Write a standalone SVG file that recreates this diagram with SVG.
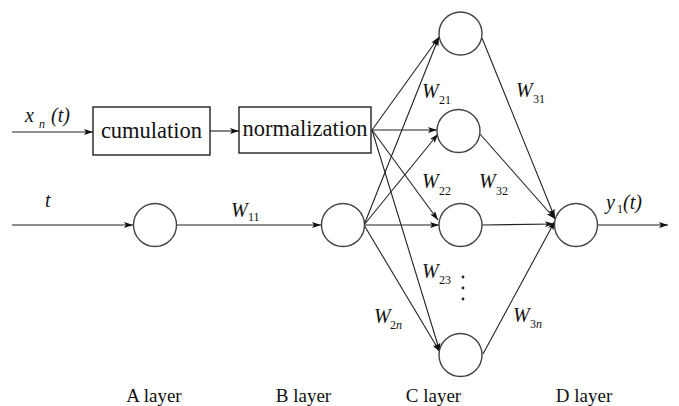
<svg xmlns="http://www.w3.org/2000/svg" width="679" height="406" viewBox="0 0 679 406">
<defs>
<marker id="ah" markerUnits="userSpaceOnUse" markerWidth="10" markerHeight="8" refX="9" refY="3" orient="auto">
<path d="M0,0 L9,3 L0,6 L2,3 z" fill="#111"/>
</marker>
<style>
.n{fill:#fff;stroke:#444;stroke-width:1.4}
.b{fill:#fff;stroke:#222;stroke-width:1.4}
.c{stroke:#222;stroke-width:1.1;fill:none;marker-end:url(#ah)}
.bt{font-family:"Liberation Serif","Times New Roman",serif;font-size:22.5px;fill:#111}
.lt{font-family:"Liberation Serif","Times New Roman",serif;font-size:19px;fill:#111}
.w{font-family:"Liberation Serif","Times New Roman",serif;font-style:italic;font-size:20px;fill:#111}
.s{font-family:"Liberation Serif","Times New Roman",serif;font-size:12px;fill:#111}
</style>
</defs>
<g id="connectors">
<line class="c" x1="12" y1="132" x2="93" y2="132"/>
<line class="c" x1="210" y1="131" x2="239" y2="131"/>
<line class="c" x1="12" y1="225" x2="133" y2="225"/>
<line class="c" x1="176" y1="225" x2="321" y2="225"/>
<line class="c" x1="372" y1="130" x2="439" y2="37"/>
<line class="c" x1="372" y1="130" x2="437" y2="130"/>
<line class="c" x1="372" y1="130" x2="438" y2="220"/>
<line class="c" x1="372" y1="130" x2="440" y2="352"/>
<line class="c" x1="364" y1="225" x2="439" y2="37"/>
<line class="c" x1="364" y1="225" x2="438" y2="134"/>
<line class="c" x1="364" y1="225" x2="439" y2="225"/>
<line class="c" x1="364" y1="225" x2="440" y2="352"/>
<line class="c" x1="482" y1="38" x2="555" y2="218"/>
<line class="c" x1="480" y1="134" x2="555" y2="219"/>
<line class="c" x1="482" y1="225" x2="554" y2="224"/>
<line class="c" x1="483" y1="354" x2="555" y2="221"/>
<line class="c" x1="598" y1="225" x2="668" y2="225"/>
</g>
<g id="cumulation"><rect class="b" x="93" y="107" width="117" height="48"/><text class="bt" x="151.5" y="138" text-anchor="middle">cumulation</text></g>
<g id="normalization"><rect class="b" x="239" y="107" width="132" height="46"/><text class="bt" x="305" y="136" text-anchor="middle">normalization</text></g>
<g id="A"><circle class="n" cx="155" cy="225" r="21.5"/></g>
<g id="B"><circle class="n" cx="343" cy="225" r="21.5"/></g>
<g id="C1"><circle class="n" cx="460.5" cy="33.5" r="21.5"/></g>
<g id="C2"><circle class="n" cx="458.5" cy="131" r="21.5"/></g>
<g id="C3"><circle class="n" cx="460.5" cy="225" r="21.5"/></g>
<g id="Cn"><circle class="n" cx="460.5" cy="355" r="21.5"/></g>
<g id="D"><circle class="n" cx="576" cy="225" r="21.5"/></g>
<g id="labels">
<text class="w" x="25" y="122">x</text><text class="s" x="39" y="128" font-style="italic">n</text><text class="w" x="51" y="122" font-style="normal">(<tspan font-style="italic">t</tspan>)</text>
<text class="w" x="45" y="207">t</text>
<text class="w" x="231" y="217">W</text><text class="s" x="248" y="221">11</text>
<text class="w" x="422" y="98">W</text><text class="s" x="439" y="104">21</text>
<text class="w" x="516" y="97">W</text><text class="s" x="533" y="103">31</text>
<text class="w" x="422" y="188">W</text><text class="s" x="439" y="195">22</text>
<text class="w" x="479" y="188">W</text><text class="s" x="496" y="195">32</text>
<text class="w" x="422" y="278">W</text><text class="s" x="439" y="284">23</text>
<text class="w" x="374" y="323">W</text><text class="s" x="390" y="329">2<tspan font-style="italic">n</tspan></text>
<text class="w" x="513" y="322">W</text><text class="s" x="530" y="328">3<tspan font-style="italic">n</tspan></text>
<circle cx="463" cy="277" r="1.4" fill="#222"/><circle cx="463" cy="288" r="1.4" fill="#222"/><circle cx="463" cy="299" r="1.4" fill="#222"/>
<text class="w" x="606" y="209">y</text><text class="s" x="617" y="213">1</text><text class="w" x="623" y="209" font-style="normal">(<tspan font-style="italic">t</tspan>)</text>
<text class="lt" x="154" y="402" text-anchor="middle">A layer</text>
<text class="lt" x="303.5" y="402" text-anchor="middle">B layer</text>
<text class="lt" x="433.5" y="402" text-anchor="middle">C layer</text>
<text class="lt" x="584" y="402" text-anchor="middle">D layer</text>
</g>
</svg>
